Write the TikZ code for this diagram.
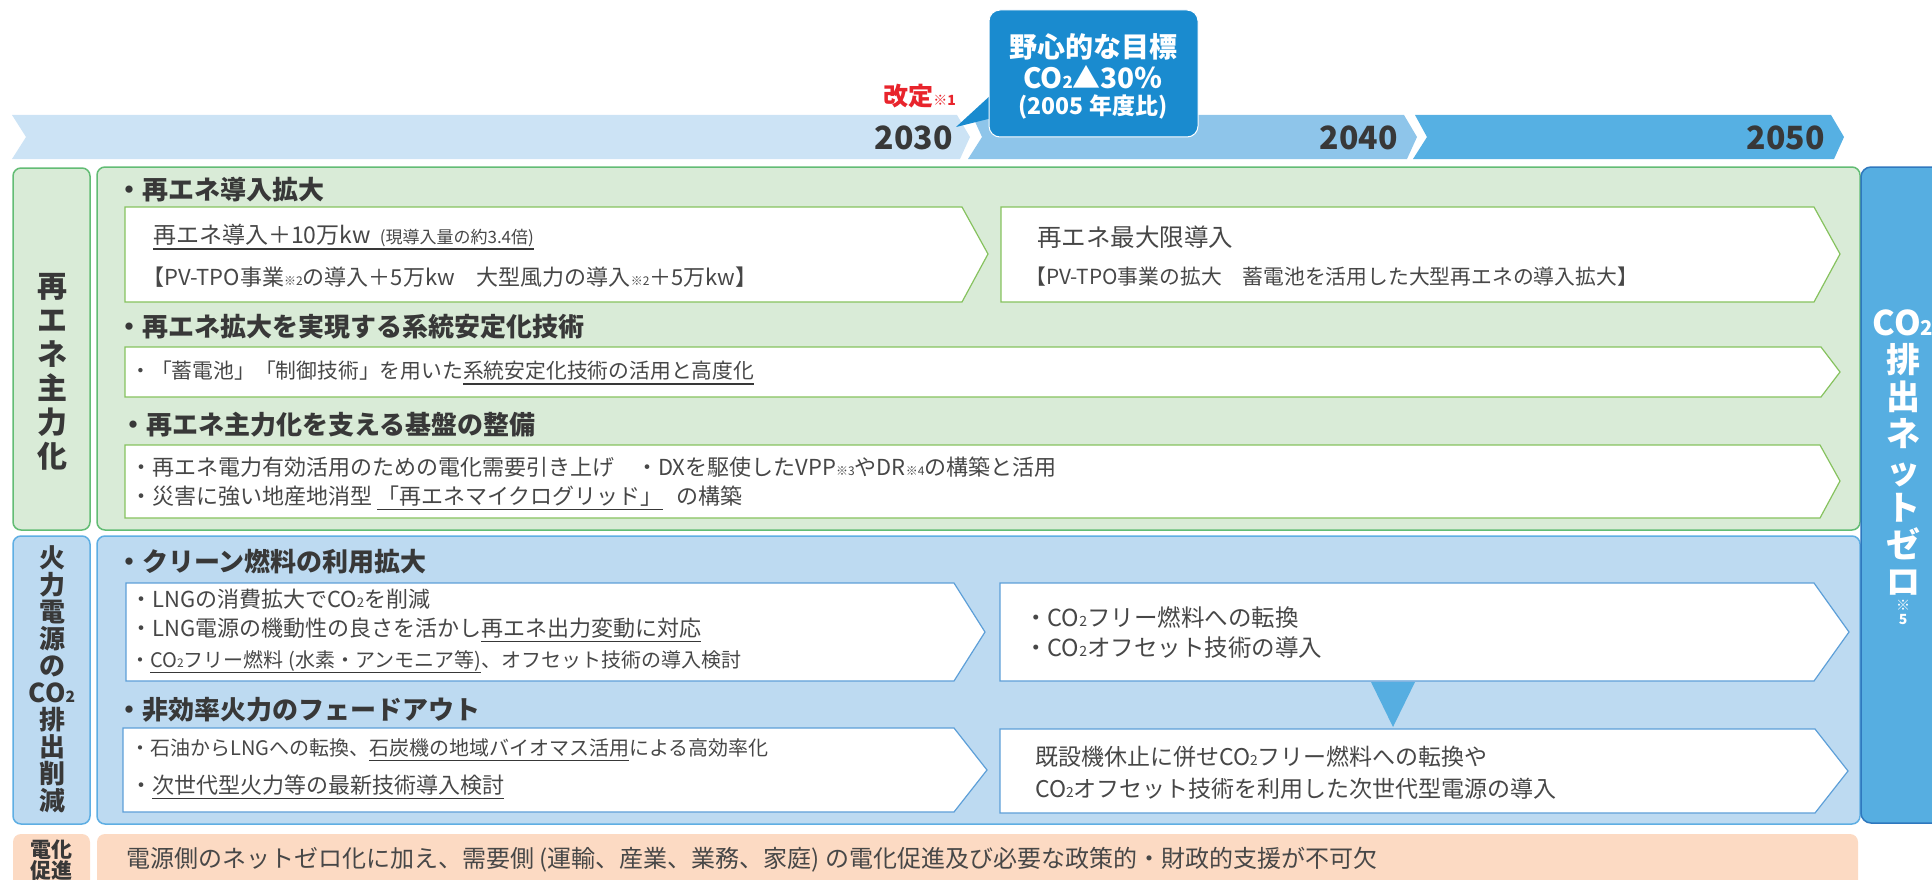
\documentclass[tikz,border=0pt]{standalone}
\usepackage{fontspec}
\setmainfont{Noto Sans CJK JP}
\definecolor{tlone}{HTML}{CCE3F5}
\definecolor{tltwo}{HTML}{8EC5EA}
\definecolor{tlthree}{HTML}{56B0E3}
\definecolor{callout}{HTML}{1A8BCF}
\definecolor{gfill}{HTML}{D9EBD7}
\definecolor{gline}{HTML}{62BC74}
\definecolor{gbox}{HTML}{86C25E}
\definecolor{bfill}{HTML}{BDDAF1}
\definecolor{bline}{HTML}{5EAEE3}
\definecolor{bbox}{HTML}{5D9FD8}
\definecolor{rfill}{HTML}{56AEE1}
\definecolor{rline}{HTML}{2F78BE}
\definecolor{ofill}{HTML}{FCDAC3}
\definecolor{bodyc}{HTML}{474747}
\definecolor{headc}{HTML}{383838}
\definecolor{kred}{HTML}{E8242C}
\newcommand\COt{CO\scalebox{0.6}{2}}
\newcommand\ulx[1]{\setbox0\hbox{#1}\rlap{\color{headc}\rule[-6pt]{\wd0}{1.4pt}}\box0}
\newcommand\kome[1]{{\fontsize{12}{12}\selectfont ※#1}}
\newcommand\fs[1]{\fontsize{#1}{#1}\selectfont}
\begin{document}
\begin{tikzpicture}[x=1pt,y=-1pt,
  body/.style={anchor=west, inner sep=0pt, text=bodyc, font=\fontsize{22}{26}\selectfont},
  head/.style={anchor=west, inner sep=0pt, text=headc, font=\fontsize{26}{30}\selectfont\bfseries},
  year/.style={anchor=east, inner sep=0pt, text=headc, font=\fontsize{32}{34}\selectfont\bfseries},
  gwhite/.style={fill=white, draw=gbox, line width=1.2pt},
  bwhite/.style={fill=white, draw=bbox, line width=1.2pt},
  vlabel/.style={inner sep=0pt, align=center, text=headc},
]
\clip (0,0) rectangle (1932,880);
\useasboundingbox (0,0) rectangle (1932,880);

% ---------- timeline ----------
\fill[tlone] (12,115) -- (957,115) -- (970,137) -- (960,159) -- (12,159) -- (26,137) -- cycle;
\fill[tltwo] (972,115) -- (1404,115) -- (1417,137) -- (1407,159) -- (968,159) -- (982,137) -- cycle;
\fill[tlthree] (1415,115) -- (1831,115) -- (1844,137) -- (1834,159) -- (1413,159) -- (1427,137) -- cycle;
\node[year] (y2030) at (953,138) {2030};
\node[year] (y2040) at (1398,138) {2040};
\node[year] (y2050) at (1825,138) {2050};

% ---------- callout ----------
\fill[callout] (992,94) -- (956,127) -- (992,118) -- cycle;
\draw[fill=callout, draw=white, line width=1pt, rounded corners=11] (989,10) rectangle (1198,137);
\node[inner sep=0pt, text=white, font=\fontsize{28}{30}\selectfont\bfseries] (goal) at (1093,47) {野心的な目標};
\node[inner sep=0pt, text=white, font=\fontsize{28}{30}\selectfont\bfseries] (goalco) at (1093,77) {\COt▲30％};
\node[inner sep=0pt, text=white, font=\fontsize{23}{26}\selectfont\bfseries] (goalbase) at (1093,107) {(2005 年度比)};
\node[anchor=east, inner sep=0pt, text=kred, font=\fontsize{25}{27}\selectfont\bfseries] (kaitei) at (956,96) {改定{\fontsize{14}{14}\selectfont ※1}};

% ---------- section frames ----------
\draw[gline, fill=gfill, line width=1.5pt, rounded corners=8] (13,168) rectangle (90,530);
\draw[gline, fill=gfill, line width=1.5pt, rounded corners=8] (97,167) rectangle (1860,530);
\draw[bline, fill=bfill, line width=1.5pt, rounded corners=8] (13,536) rectangle (90,824);
\draw[bline, fill=bfill, line width=1.5pt, rounded corners=8] (97,536) rectangle (1860,824);
\fill[ofill, rounded corners=8] (13,834) rectangle (90,900);
\fill[ofill, rounded corners=8] (97,834) rectangle (1858,900);
\draw[rline, fill=rfill, line width=1.5pt, rounded corners=10] (1861,167) rectangle (1960,823);

% ---------- left labels ----------
\node[vlabel, font=\fontsize{30}{34}\selectfont\bfseries] (lblre) at (52,372) {再\\エ\\ネ\\主\\力\\化};
\node[vlabel, font=\fontsize{26}{27}\selectfont\bfseries] (lblka) at (52,679) {火\\力\\電\\源\\の\\\COt\\排\\出\\削\\減};
\node[vlabel, font=\fontsize{21}{19}\selectfont\bfseries] (lblden) at (51,860) {電化\\促進};

% ---------- right label ----------
\node[vlabel, text=white, font=\fontsize{34}{37}\selectfont\bfseries] (lblzero) at (1903,452) {\COt\\排\\出\\ネ\\ッ\\ト\\ゼ\\ロ};
\node[vlabel, text=white, font=\fontsize{14}{14}\selectfont\bfseries] (lblnote) at (1903,612) {※\\5};

% ---------- green section ----------
\node[head] (h1) at (116,190) {・再エネ導入拡大};
\fill[gwhite] (125,207) -- (962,207) -- (988,254) -- (962,302) -- (125,302) -- cycle;
\node[body, font=\fs{23}] (t11) at (153,237) {\ulx{再エネ導入＋10万kw {\fs{17} (現導入量の約3.4倍)}}};
\node[body] (t12) at (142,277) {【PV-TPO事業\kome{2}の導入＋5万kw　大型風力の導入\kome{2}＋5万kw】};
\fill[gwhite] (1001,207) -- (1814,207) -- (1840,254) -- (1814,302) -- (1001,302) -- cycle;
\node[body, font=\fs{24.5}] (t21) at (1037,237) {再エネ最大限導入};
\node[body, font=\fs{20.8}] (t22) at (1025,277) {【PV-TPO事業の拡大　蓄電池を活用した大型再エネの導入拡大】};

\node[head] (h2) at (116,327) {・再エネ拡大を実現する系統安定化技術};
\fill[gwhite] (125,347) -- (1821,347) -- (1840,372) -- (1821,397) -- (125,397) -- cycle;
\node[body, font=\fs{20.8}] (t31) at (130,373) {・「蓄電池」「制御技術」を用いた\ulx{系統安定化技術の活用と高度化}};

\node[head] (h3) at (120,425) {・再エネ主力化を支える基盤の整備};
\fill[gwhite] (125,445) -- (1820,445) -- (1840,481) -- (1820,518) -- (125,518) -- cycle;
\node[body] (t41) at (130,467) {・再エネ電力有効活用のための電化需要引き上げ　・DXを駆使したVPP\kome{3}やDR\kome{4}の構築と活用};
\node[body] (t42) at (130,498) {・災害に強い地産地消型 \ulx{「再エネマイクログリッド」}\hspace{14pt}の構築};

% ---------- blue section ----------
\node[head] (h4) at (116,562) {・クリーン燃料の利用拡大};
\fill[bwhite] (126,583) -- (954,583) -- (985,632) -- (954,681) -- (126,681) -- cycle;
\node[body] (t51) at (130,599) {・LNGの消費拡大で\COt を削減};
\node[body] (t52) at (130,630) {・LNG電源の機動性の良さを活かし\ulx{再エネ出力変動に対応}};
\node[body, font=\fs{20}] (t53) at (130,662) {・\ulx{\COt フリー燃料 (水素・アンモニア等)}、オフセット技術の導入検討};
\fill[bwhite] (1000,583) -- (1814,583) -- (1849,632) -- (1814,681) -- (1000,681) -- cycle;
\node[body, font=\fs{23.5}] (t61) at (1024,618) {・\COt フリー燃料への転換};
\node[body, font=\fs{23.5}] (t62) at (1024,648) {・\COt オフセット技術の導入};
\fill[rfill] (1371,682) -- (1415,682) -- (1393,727) -- cycle;

\node[head] (h5) at (116,710) {・非効率火力のフェードアウト};
\fill[bwhite] (123,728) -- (954,728) -- (987,770) -- (954,812) -- (123,812) -- cycle;
\node[body, font=\fs{20}] (t71) at (130,750) {・石油からLNGへの転換、\ulx{石炭機の地域バイオマス活用}による高効率化};
\node[body] (t72) at (130,787) {・\ulx{次世代型火力等の最新技術導入検討}};
\fill[bwhite] (1000,729) -- (1815,729) -- (1848,771) -- (1815,813) -- (1000,813) -- cycle;
\node[body, font=\fs{23}] (t81) at (1035,757) {既設機休止に併せ\COt フリー燃料への転換や};
\node[body, font=\fs{23}] (t82) at (1035,789) {\COt オフセット技術を利用した次世代型電源の導入};

% ---------- orange ----------
\node[body, font=\fontsize{24}{28}\selectfont] (t91) at (126,860) {電源側のネットゼロ化に加え、需要側 (運輸、産業、業務、家庭) の電化促進及び必要な政策的・財政的支援が不可欠};
\end{tikzpicture}
\end{document}
